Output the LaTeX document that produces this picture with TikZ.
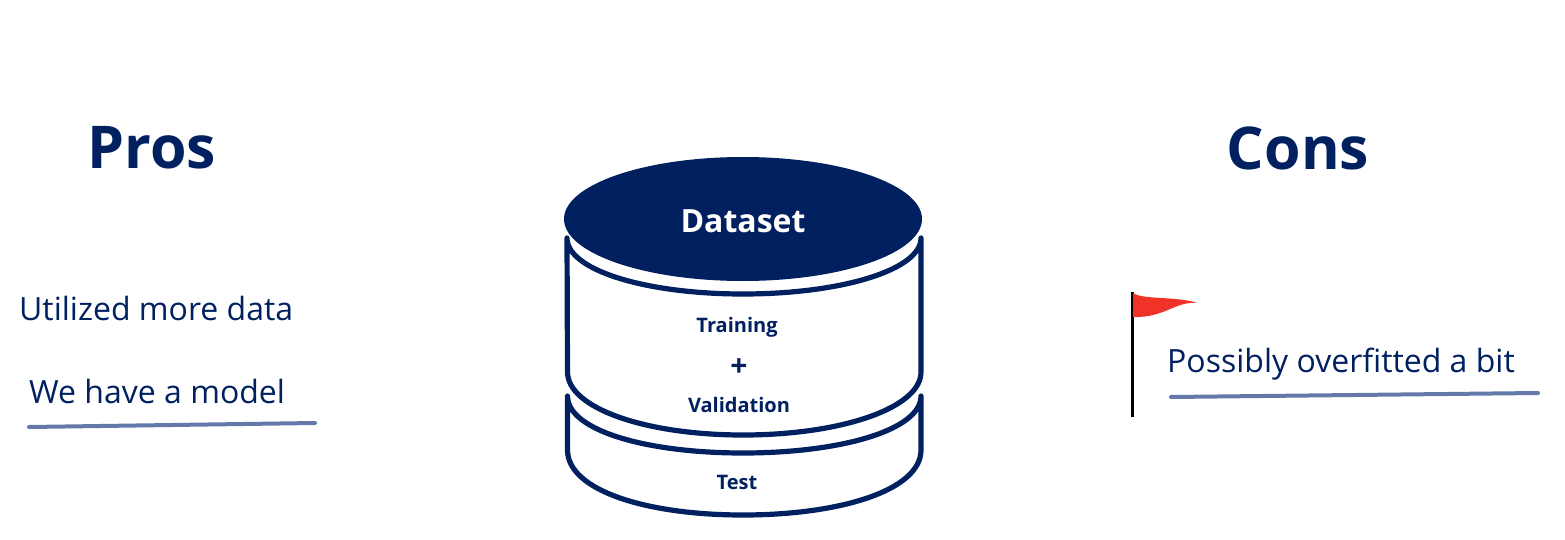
\documentclass[tikz,border=0pt]{standalone}
\usepackage{fontspec}
\setmainfont{Open Sans}
\usetikzlibrary{shapes.geometric}
\definecolor{dsnavy}{RGB}{0,32,96}
\definecolor{dsline}{RGB}{100,120,170}
\definecolor{dsred}{RGB}{240,50,40}
\tikzset{
  heading/.style={font=\fontsize{59}{59}\selectfont\bfseries, text=dsnavy},
  remark/.style={font=\fontsize{32}{32}\selectfont, text=dsnavy, inner sep=0pt},
  barrel/.style={font=\fontsize{20}{20}\selectfont\bfseries, text=dsnavy, inner sep=0pt},
  rim/.style={draw=dsnavy, line width=5.2pt, line join=round},
  mark line/.style={draw=dsline, line width=4pt, line cap=round}
}
\begin{document}
\begin{tikzpicture}[x=1pt,y=-1pt]
\useasboundingbox (0,0) rectangle (1565,540);

% Headings
\node[heading] (pros) at (152,148) {Pros};
\node[heading] (cons) at (1298,148) {Cons};

% Barrel, lower part
\draw[rim] (567.5,396) -- (567.5,450) .. controls (567.5,490) and (645,515) .. (743,515)
  .. controls (841,515) and (921,490) .. (921,450) -- (921,396)
  .. controls (921,430) and (841,453) .. (743,453)
  .. controls (645,453) and (567.5,430) .. (567.5,396) -- cycle;

% Barrel, upper part
\draw[rim, fill=white] (567,238) -- (567.5,372) .. controls (567.5,408) and (645,435) .. (743,435)
  .. controls (841,435) and (921,408) .. (921,372) -- (921,238)
  .. controls (921,270) and (841,294) .. (743,294)
  .. controls (645,294) and (567,270) .. (567,238) -- cycle;

% Top
\node[ellipse, fill=dsnavy, minimum width=358pt, minimum height=124pt, inner sep=0pt] (top) at (743,219) {};
\node[font=\fontsize{32}{32}\selectfont\bfseries, text=white, inner sep=0pt] (dataset) at (743,221) {Dataset};

% Barrel labels
\node[barrel] (training) at (737,327) {Training};
\node[barrel, font=\fontsize{30}{30}\selectfont\bfseries] (plus) at (739,368) {+};
\node[barrel] (validation) at (739,405) {Validation};
\node[barrel] (test) at (737,482) {Test};

% Left remarks
\node[remark, anchor=west] (used) at (19,308) {Utilized more data};
\node[remark, anchor=west] (model) at (29,391) {We have a model};
\coordinate (modelA) at (29,427);
\coordinate (modelB) at (315,423);
\draw[mark line] (modelA) -- (modelB);

% Right remark and flag
\node[remark, anchor=west] (overfit) at (1167,364) {Possibly overfitted a bit};
\coordinate (overA) at (1171,397);
\coordinate (overB) at (1538,393);
\draw[mark line] (overA) -- (overB);
\coordinate (poleT) at (1132.5,292);
\coordinate (poleB) at (1132.5,417);
\draw[black, line width=2.2pt] (poleT) -- (poleB);
\fill[dsred] (1133,293) .. controls (1143,300) and (1177,296) .. (1197,303)
  .. controls (1175,301) and (1165,318) .. (1133,317) -- cycle;
\end{tikzpicture}
\end{document}
